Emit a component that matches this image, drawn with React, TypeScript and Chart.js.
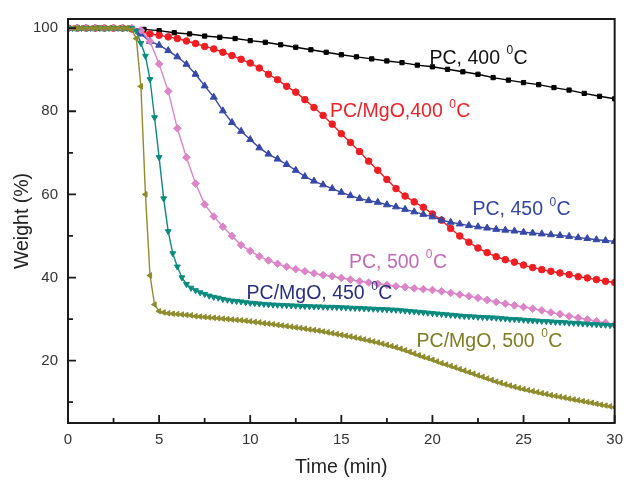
import React, { useEffect, useRef } from 'react';
import { Chart, registerables } from 'chart.js';

Chart.register(...registerables);

const FONT = '"Liberation Sans", Arial, Helvetica, sans-serif';

// ---- time grids (min) ----
const timeBlack = [
  0, 0.83, 1.67, 2.5, 3.33, 4.17, 5, 5.83, 6.67, 7.5, 8.33, 9.17, 10,
  10.83, 11.67, 12.5, 13.33, 14.17, 15, 15.83, 16.67, 17.5, 18.33, 19.17, 20,
  20.83, 21.67, 22.5, 23.33, 24.17, 25, 25.83, 26.67, 27.5, 28.33, 29.17, 30,
];
const timeHalf = Array.from({ length: 61 }, (_, i) => i * 0.5);
const timeQuarter = Array.from({ length: 121 }, (_, i) => i * 0.25);

// ---- weight (%) series ----
const pc400 = [
  100, 100, 100, 100, 100, 99.7, 99.4, 98.9, 98.6, 98.1, 97.8, 97.5, 97.0,
  96.6, 96.0, 95.4, 94.8, 94.2, 93.6, 93.1, 92.6, 92.1, 91.7, 91.1, 90.7,
  90.1, 89.5, 88.9, 88.1, 87.5, 86.9, 86.4, 85.7, 85.1, 84.3, 83.6, 83.0,
];

const pcMgo400 = [
  100, 100, 100, 100, 100, 100, 100, 99.8, 99.2, 98.6, 98.3, 97.9, 97.5,
  96.9, 96.3, 95.6, 95.0, 94.2, 93.4, 92.5, 91.6, 90.4, 88.9, 87.6, 86.0,
  84.6, 82.8, 80.9, 79.0, 76.9, 74.6, 72.5, 70.3, 68.0, 65.8, 63.6, 61.4,
  59.6, 58.2, 56.9, 55.3, 53.8, 51.8, 50.0, 48.5, 47.1, 46.0, 45.0, 44.3,
  43.7, 43.0, 42.4, 41.9, 41.5, 41.1, 40.7, 40.2, 39.9, 39.5, 39.1, 38.8,
];

const pc450 = [
  100, 100, 100, 100, 100, 100, 100, 99.9, 98.6, 96.8, 95.9, 94.6, 93.1,
  91.3, 88.9, 86.1, 83.4, 80.1, 77.3, 75.2, 73.2, 71.2, 69.7, 68.5, 67.2,
  65.8, 64.3, 63.2, 62.3, 61.4, 60.5, 59.7, 59.0, 58.5, 58.1, 57.5, 57.0,
  56.4, 55.8, 55.2, 54.6, 53.8, 53.3, 52.9, 52.5, 52.2, 51.9, 51.6, 51.4,
  51.2, 50.9, 50.7, 50.5, 50.3, 50.1, 49.9, 49.6, 49.4, 49.1, 48.9, 48.7,
];

const pc500 = [
  100, 100, 100, 100, 100, 100, 100, 100, 99.5, 96.8, 91.4, 84.8, 75.9,
  68.9, 62.6, 57.6, 54.7, 52.2, 50.0, 47.8, 46.4, 45.1, 44.1, 43.3, 42.6,
  42.0, 41.5, 41.0, 40.6, 40.3, 39.9, 39.5, 39.1, 38.8, 38.5, 38.2, 37.9,
  37.7, 37.4, 37.2, 37.0, 36.7, 36.3, 35.9, 35.5, 35.1, 34.6, 34.1, 33.7,
  33.3, 32.9, 32.5, 32.1, 31.6, 31.2, 30.7, 30.3, 29.9, 29.5, 29.1, 28.7,
];

const pcMgo450 = [
  100, 100, 100, 100, 100, 100, 100, 100, 100, 100, 100, 100, 100, 100, 100,
  99.3, 96.4, 93.3, 87.7, 78.5, 68.9, 59.0, 51.1,
  45.8, 42.6, 40.0, 38.4, 37.5, 36.9, 36.4, 36.0,
  35.6, 35.3, 35.1, 34.8, 34.6, 34.4, 34.3, 34.2,
  34.0, 33.9, 33.8, 33.7, 33.6, 33.5, 33.45, 33.4,
  33.35, 33.3, 33.25, 33.2, 33.15, 33.1, 33.05, 33.0,
  33.0, 32.95, 32.9, 32.9, 32.85, 32.8, 32.75, 32.7,
  32.65, 32.6, 32.55, 32.5, 32.45, 32.4, 32.35, 32.3,
  32.25, 32.2, 32.1, 32.0, 31.9, 31.8, 31.7, 31.6,
  31.5, 31.4, 31.3, 31.2, 31.1, 31.0, 30.9, 30.8,
  30.7, 30.65, 30.6, 30.5, 30.45, 30.4, 30.35, 30.3,
  30.2, 30.1, 30.0, 29.95, 29.9, 29.8, 29.7, 29.65,
  29.6, 29.5, 29.45, 29.4, 29.3, 29.25, 29.2, 29.1,
  29.05, 29.0, 28.9, 28.85, 28.8, 28.7, 28.65, 28.6,
  28.5, 28.45,
];

const pcMgo500 = [
  100, 100, 100, 100, 100, 100, 100, 100, 100, 100, 100, 100, 100, 100,
  99.6, 97.5, 86, 60, 40.5, 33.5, 31.9, 31.6,
  31.4, 31.3, 31.2, 31.1, 31.0, 30.9, 30.7, 30.6,
  30.5, 30.4, 30.3, 30.2, 30.1, 30.0, 29.9, 29.8,
  29.7, 29.6, 29.45, 29.3, 29.2, 29.0, 28.9, 28.75,
  28.6, 28.45, 28.3, 28.15, 28.0, 27.85, 27.7, 27.5,
  27.35, 27.2, 27.0, 26.8, 26.6, 26.4, 26.2, 26.0,
  25.8, 25.55, 25.35, 25.1, 24.85, 24.6, 24.35, 24.05,
  23.8, 23.5, 23.2, 22.85, 22.5, 22.1, 21.7, 21.3,
  20.9, 20.6, 20.2, 19.8, 19.4, 19.05, 18.7, 18.35,
  17.95, 17.6, 17.2, 16.85, 16.45, 16.1, 15.7, 15.35,
  14.95, 14.65, 14.3, 14.0, 13.7, 13.4, 13.15, 12.9,
  12.65, 12.4, 12.15, 11.95, 11.7, 11.5, 11.3, 11.1,
  10.85, 10.65, 10.45, 10.25, 10.05, 9.85, 9.6, 9.4,
  9.2, 9.0, 8.8,
];

// ---- axes ----
const xTickValues = [0, 5, 10, 15, 20, 25, 30];
const yTickValues = [20, 40, 60, 80, 100];
const xMinorTicks = [2.5, 7.5, 12.5, 17.5, 22.5, 27.5];
const yMinorTicks = [10, 30, 50, 70, 90];

// ---- in-plot labels (text, anchor time, anchor weight) ----
const labelTexts = ['PC, 400', 'PC/MgO,400', 'PC, 450', 'PC, 500', 'PC/MgO, 450', 'PC/MgO, 500'];
const labelTimes = [19.84, 14.38, 22.2, 15.42, 9.8, 19.13];
const labelWeights = [93.1, 80.2, 56.7, 44.0, 36.5, 25.0];
const labelColors = ['#111111', '#ee2229', '#3444a4', '#c46ab6', '#2c2f80', '#7e7c22'];

const toXY = (xs: number[], ys: number[]) => ys.map((v, i) => ({ x: xs[i], y: v }));

const decorPlugin = {
  id: 'decor',
  afterDatasetsDraw(chart: any) {
    const { ctx, chartArea: a, scales } = chart;
    const sx = scales.x;
    const sy = scales.y;
    ctx.save();
    ctx.strokeStyle = '#1a1a1a';
    ctx.lineWidth = 1.8;
    ctx.beginPath();
    xTickValues.forEach((v) => {
      const p = sx.getPixelForValue(v);
      ctx.moveTo(p, a.bottom);
      ctx.lineTo(p, a.bottom - 8);
    });
    xMinorTicks.forEach((v) => {
      const p = sx.getPixelForValue(v);
      ctx.moveTo(p, a.bottom);
      ctx.lineTo(p, a.bottom - 5);
    });
    yTickValues.forEach((v) => {
      const p = sy.getPixelForValue(v);
      ctx.moveTo(a.left, p);
      ctx.lineTo(a.left + 8, p);
    });
    yMinorTicks.forEach((v) => {
      const p = sy.getPixelForValue(v);
      ctx.moveTo(a.left, p);
      ctx.lineTo(a.left + 5, p);
    });
    ctx.stroke();
    ctx.lineWidth = 2;
    ctx.strokeRect(a.left, a.top, a.right - a.left, a.bottom - a.top);

    // labels with superscript 0 and C
    labelTexts.forEach((t, i) => {
      const px = sx.getPixelForValue(labelTimes[i]);
      const capMid = sy.getPixelForValue(labelWeights[i]);
      const base = capMid + 7;
      ctx.fillStyle = labelColors[i];
      ctx.textBaseline = 'alphabetic';
      ctx.textAlign = 'left';
      ctx.font = `19.5px ${FONT}`;
      const main = t + ' ';
      ctx.fillText(main, px, base);
      const w = ctx.measureText(main).width;
      ctx.font = `12px ${FONT}`;
      ctx.fillText('0', px + w + 1, base - 9.5);
      const sw = ctx.measureText('0').width;
      ctx.font = `19.5px ${FONT}`;
      ctx.fillText('C', px + w + sw + 1.5, base);
    });
    ctx.restore();
  },
};

export default function App() {
  const ref = useRef<HTMLCanvasElement>(null);

  useEffect(() => {
    const canvas = ref.current!;
    const common = { borderWidth: 1.4, pointBorderWidth: 1, tension: 0, showLine: true };
    const chart = new Chart(canvas, {
      type: 'line',
      data: {
        datasets: [
          {
            ...common,
            label: 'PC/MgO, 500 °C',
            data: toXY(timeQuarter, pcMgo500),
            borderColor: '#8e8c2d',
            backgroundColor: '#8e8c2d',
            pointStyle: 'triangle',
            rotation: 270,
            pointRadius: 3.2,
          },
          {
            ...common,
            label: 'PC/MgO, 450 °C',
            data: toXY(timeQuarter, pcMgo450),
            borderColor: '#0b8a7f',
            backgroundColor: '#0b8a7f',
            pointStyle: 'triangle',
            rotation: 180,
            pointRadius: 3.4,
          },
          {
            ...common,
            label: 'PC, 500 °C',
            data: toXY(timeHalf, pc500),
            borderColor: '#dc84c8',
            backgroundColor: '#dc84c8',
            pointStyle: 'rectRot',
            pointRadius: 3.8,
          },
          {
            ...common,
            label: 'PC, 450 °C',
            data: toXY(timeHalf, pc450),
            borderColor: '#3748a8',
            backgroundColor: '#3748a8',
            pointStyle: 'triangle',
            pointRadius: 4,
          },
          {
            ...common,
            label: 'PC/MgO, 400 °C',
            data: toXY(timeHalf, pcMgo400),
            borderColor: '#f01e23',
            backgroundColor: '#f01e23',
            pointStyle: 'circle',
            pointRadius: 3.3,
          },
          {
            ...common,
            label: 'PC, 400 °C',
            data: toXY(timeBlack, pc400),
            borderColor: '#000000',
            backgroundColor: '#000000',
            pointStyle: 'rect',
            pointRadius: 3,
          },
        ],
      },
      options: {
        responsive: false,
        animation: false,
        devicePixelRatio: 1,
        events: [],
        layout: { padding: { left: 0, top: 14, right: 10, bottom: 0 } },
        plugins: {
          legend: { display: false },
          tooltip: { enabled: false },
        },
        scales: {
          x: {
            type: 'linear',
            min: 0,
            max: 30,
            grid: { display: false, drawTicks: false },
            border: { display: false },
            afterBuildTicks: (s: any) => {
              s.ticks = xTickValues.map((v) => ({ value: v }));
            },
            afterFit: (s: any) => {
              s.height = 60;
            },
            ticks: {
              padding: 8,
              color: '#333',
              font: { family: FONT, size: 15 },
              maxRotation: 0,
            },
            title: {
              display: true,
              text: 'Time (min)',
              color: '#222',
              font: { family: FONT, size: 19.5 },
              padding: { top: 0, bottom: 4 },
            },
          },
          y: {
            type: 'linear',
            min: 5,
            max: 102.2,
            grid: { display: false, drawTicks: false },
            border: { display: false },
            afterBuildTicks: (s: any) => {
              s.ticks = yTickValues.map((v) => ({ value: v }));
            },
            afterFit: (s: any) => {
              s.width = 68;
            },
            ticks: {
              padding: 10,
              color: '#333',
              font: { family: FONT, size: 15 },
            },
            title: {
              display: true,
              text: 'Weight (%)',
              color: '#222',
              font: { family: FONT, size: 19.5 },
              padding: { top: 11, bottom: 0 },
            },
          },
        },
      },
      plugins: [decorPlugin],
    } as any);
    return () => chart.destroy();
  }, []);

  return (
    <div style={{ position: 'fixed', left: 0, top: 0, width: 631, height: 483, background: '#fff' }}>
      <canvas ref={ref} width={631} height={483} style={{ display: 'block', width: 631, height: 483 }} />
    </div>
  );
}
